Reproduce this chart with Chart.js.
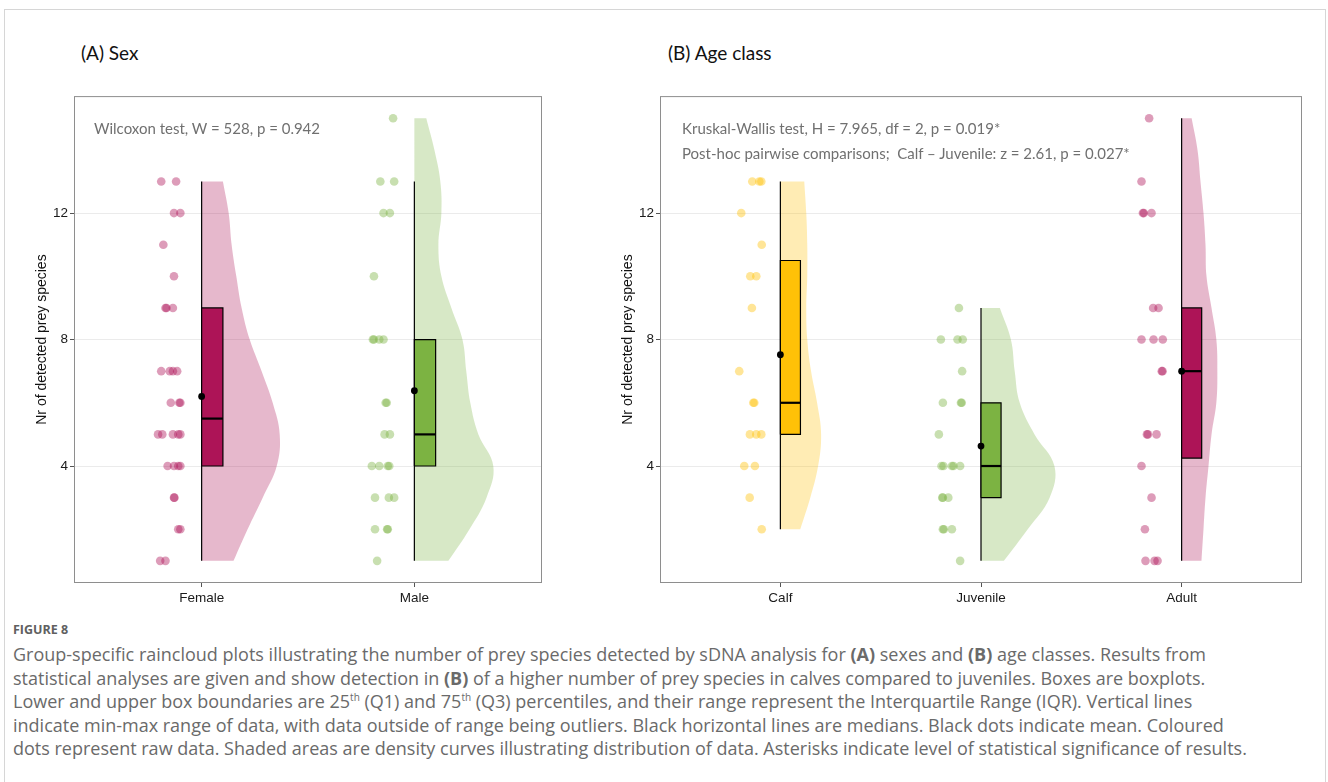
<!DOCTYPE html>
<html>
<head>
<meta charset="utf-8">
<script src="https://cdn.jsdelivr.net/npm/chart.js@4.4.1/dist/chart.umd.min.js"></script>
<style>
  body { margin: 0; width: 1328px; height: 782px; background: #fff; position: relative; overflow: hidden; font-family: Lato, sans-serif; }
  .frame { position: absolute; left: 4px; top: 9px; width: 1320px; height: 800px; border: 1px solid #d6d6d6; }
  .head { position: absolute; font-size: 19px; line-height: 24px; color: #111; }
  .note { position: absolute; font-size: 15px; line-height: 20px; color: #707070; white-space: nowrap; }
  .box { position: absolute; }
  .fig { position: absolute; left: 13px; top: 621px; font-family: "Open Sans", sans-serif; font-size: 12.5px; font-weight: bold; color: #606060; }
  .cap { position: absolute; left: 13px; top: 643px; font-family: "Open Sans", sans-serif; font-size: 18px; line-height: 23.6px; color: #6a6a6a; white-space: nowrap; }
  sup { font-size: 10px; line-height: 0; }
</style>
</head>
<body>
<div class="frame"></div>

<div class="head" style="left:81px;top:41px">(A) Sex</div>
<div class="head" style="left:668px;top:41px">(B) Age class</div>

<div class="box" style="left:0;top:86px"><canvas id="chart-sex" width="560" height="530"></canvas></div>
<div class="box" style="left:590px;top:86px"><canvas id="chart-age" width="730" height="530"></canvas></div>

<div class="note" style="left:94px;top:118px">Wilcoxon test, W = 528, p = 0.942</div>
<div class="note" style="left:682px;top:118px">Kruskal-Wallis test, H = 7.965, df = 2, p = 0.019*</div>
<div class="note" style="left:682px;top:143px">Post-hoc pairwise comparisons;&nbsp; Calf – Juvenile: z = 2.61, p = 0.027*</div>

<div class="fig">FIGURE 8</div>
<div class="cap">
Group-specific raincloud plots illustrating the number of prey species detected by sDNA analysis for <b>(A)</b> sexes and <b>(B)</b> age classes. Results from<br>
statistical analyses are given and show detection in <b>(B)</b> of a higher number of prey species in calves compared to juveniles. Boxes are boxplots.<br>
Lower and upper box boundaries are 25<sup>th</sup> (Q1) and 75<sup>th</sup> (Q3) percentiles, and their range represent the Interquartile Range (IQR). Vertical lines<br>
indicate min-max range of data, with data outside of range being outliers. Black horizontal lines are medians. Black dots indicate mean. Coloured<br>
dots represent raw data. Shaded areas are density curves illustrating distribution of data. Asterisks indicate level of statistical significance of results.
</div>

<script>
// ─── Data ──────────────────────────────────────────────────────────
const sexGroups = ['Female', 'Male'];
const ageGroups = ['Calf', 'Juvenile', 'Adult'];
const yTicks = [4, 8, 12];

// raw observations + their horizontal jitter (x units left of the category)
const femaleValues = [13, 13, 12, 12, 11, 10, 9, 9, 9, 7, 7, 7, 7, 6, 6, 6, 5, 5, 5, 5, 5, 4, 4, 4, 4, 3, 3, 2, 2, 1, 1];
const femaleJitter = [-0.19, -0.12, -0.13, -0.10, -0.18, -0.13, -0.17, -0.165, -0.135, -0.19, -0.15, -0.135, -0.115, -0.145, -0.105, -0.10,
  -0.205, -0.185, -0.135, -0.11, -0.10, -0.16, -0.13, -0.11, -0.10, -0.13, -0.128, -0.11, -0.10, -0.195, -0.17];
const maleValues = [15, 13, 13, 12, 12, 10, 8, 8, 8, 8, 6, 6, 5, 5, 4, 4, 4, 4, 3, 3, 3, 2, 2, 2, 1];
const maleJitter = [-0.10, -0.16, -0.095, -0.145, -0.115, -0.19, -0.195, -0.19, -0.165, -0.145, -0.135, -0.13, -0.14, -0.115,
  -0.20, -0.165, -0.125, -0.118, -0.185, -0.12, -0.095, -0.185, -0.128, -0.125, -0.175];
const calfValues = [13, 13, 13, 12, 11, 10, 10, 9, 7, 6, 6, 5, 5, 5, 4, 4, 3, 2];
const calfJitter = [-0.14, -0.105, -0.095, -0.195, -0.093, -0.15, -0.12, -0.142, -0.205, -0.135, -0.13, -0.152, -0.12, -0.095,
  -0.18, -0.127, -0.153, -0.093];
const juvenileValues = [9, 8, 8, 8, 7, 6, 6, 6, 5, 4, 4, 4, 4, 4, 3, 3, 3, 2, 2, 2, 1];
const juvenileJitter = [-0.11, -0.20, -0.117, -0.091, -0.094, -0.19, -0.10, -0.096, -0.21, -0.197, -0.187, -0.145, -0.137, -0.104,
  -0.193, -0.19, -0.163, -0.19, -0.185, -0.145, -0.104];
const adultValues = [15, 13, 12, 12, 12, 9, 9, 8, 8, 8, 7, 7, 5, 5, 5, 4, 3, 2, 1, 1, 1];
const adultJitter = [-0.162, -0.20, -0.193, -0.188, -0.15, -0.142, -0.115, -0.20, -0.14, -0.094, -0.099, -0.095, -0.173, -0.168, -0.125,
  -0.20, -0.15, -0.183, -0.18, -0.135, -0.12];

// box statistics: [min, Q1, median, Q3, max]
const femaleBox = [1, 4, 5.5, 9, 13];
const maleBox = [1, 4, 5, 8, 13];
const calfBox = [2, 5, 6, 10.5, 13];
const juvenileBox = [1, 3, 4, 6, 9];
const adultBox = [1, 4.25, 7, 9, 15];
const sexMeans = [6.2, 6.38];
const ageMeans = [7.52, 4.63, 7.0];

// density half-widths (x units), one per integer value starting at densityFrom
const femaleDensity = [0.150, 0.216, 0.287, 0.353, 0.367, 0.334, 0.282, 0.226, 0.188, 0.163, 0.141, 0.127, 0.100];
const maleDensity = [0.160, 0.259, 0.339, 0.371, 0.301, 0.263, 0.244, 0.226, 0.174, 0.127, 0.113, 0.127, 0.122, 0.094, 0.056];
const calfDensity = [0.099, 0.149, 0.188, 0.203, 0.183, 0.153, 0.134, 0.129, 0.134, 0.134, 0.129, 0.119];
const juvenileDensity = [0.114, 0.233, 0.342, 0.366, 0.267, 0.193, 0.168, 0.149, 0.094];
const adultDensity = [0.099, 0.109, 0.119, 0.134, 0.149, 0.173, 0.178, 0.173, 0.149, 0.124, 0.119, 0.109, 0.094, 0.079, 0.050];
const sexDensityFrom = [1, 1];
const ageDensityFrom = [2, 1, 1];

// ─── Styling ───────────────────────────────────────────────────────
const PINK = [173, 20, 87], GREEN = [124, 179, 66], GOLD = [255, 193, 7];
const BOX_W = 0.1;
const rgba = (c, a) => `rgba(${c[0]},${c[1]},${c[2]},${a})`;

function groupDatasets(pos, g) {
  const [mn, q1, med, q3, mx] = g.box;
  const edge = g.density.map((w, i) => ({ x: pos + w, y: g.from + i }));
  const first = edge[0], last = edge[edge.length - 1];
  // corners doubled so the smoothed outline stays flat at the trimmed ends
  const shape = [{ x: pos, y: first.y }, first, first, ...edge.slice(1, -1), last, last, { x: pos, y: last.y }];
  const line = { showLine: true, pointRadius: 0, borderColor: '#000', borderWidth: 1.2, tension: 0 };
  return [
    { data: g.values.map((v, i) => ({ x: pos + g.jitter[i], y: v })), pointRadius: 4.3, pointBorderWidth: 0,
      pointBackgroundColor: rgba(g.color, 0.42), order: 0 },
    { data: [{ x: pos, y: g.mean }], pointRadius: 3.4, pointBorderWidth: 0, pointBackgroundColor: '#000', order: 1 },
    { ...line, data: [{ x: pos, y: med }, { x: pos + BOX_W, y: med }], borderWidth: 2.2, order: 2 },
    { ...line, data: [{ x: pos, y: q1 }, { x: pos + BOX_W, y: q1 }, { x: pos + BOX_W, y: q3 }, { x: pos, y: q3 }, { x: pos, y: q1 }],
      fill: 'shape', backgroundColor: rgba(g.color, 1), order: 3 },
    { ...line, data: [{ x: pos, y: mn }, { x: pos, y: mx }], order: 4 },
    { data: shape, showLine: true, pointRadius: 0, tension: 0.4, fill: 'shape', borderWidth: 0, borderColor: 'rgba(0,0,0,0)',
      backgroundColor: rgba(g.color, 0.3), order: 5 },
  ];
}

const panelBorder = {
  id: 'panelBorder',
  afterDraw(chart) {
    const { ctx, chartArea: a } = chart;
    ctx.save();
    ctx.strokeStyle = '#8e8e8e';
    ctx.lineWidth = 1;
    ctx.strokeRect(a.left + 0.5, a.top + 0.5, a.right - a.left - 1, a.bottom - a.top - 1);
    ctx.restore();
  }
};

const axisFont = { family: '"Liberation Sans", Arial, sans-serif', size: 13.5 };

function makeChart(id, labels, groups, yAxisWidth, titlePad) {
  const datasets = [];
  groups.forEach((g, i) => datasets.push(...groupDatasets(i + 1, g)));
  return new Chart(document.getElementById(id), {
    type: 'scatter',
    data: { datasets },
    plugins: [panelBorder],
    options: {
      responsive: false,
      animation: false,
      devicePixelRatio: 1,
      layout: { padding: { top: 10, right: 18, left: 0, bottom: 0 } },
      plugins: { legend: { display: false }, tooltip: { enabled: false } },
      scales: {
        x: {
          type: 'linear', min: 0.4, max: labels.length + 0.6,
          afterBuildTicks: ax => { ax.ticks = labels.map((_, i) => ({ value: i + 1 })); },
          afterFit: ax => { ax.height = 33; },
          ticks: { callback: (v, i) => labels[i], color: '#1a1a1a', font: axisFont, padding: 3, maxRotation: 0, autoSkip: false },
          grid: { drawOnChartArea: false, tickLength: 4, tickColor: '#555' },
          border: { display: false },
        },
        y: {
          min: 0.3, max: 15.7,
          afterBuildTicks: ax => { ax.ticks = yTicks.map(v => ({ value: v })); },
          afterFit: ax => { ax.width = yAxisWidth; },
          ticks: { color: '#1a1a1a', font: axisFont, padding: 2 },
          grid: { color: '#ebebeb', lineWidth: 1, tickLength: 4, tickColor: '#555' },
          border: { display: false },
          title: { display: true, text: 'Nr of detected prey species', color: '#111',
            font: { family: '"Liberation Sans", Arial, sans-serif', size: 14 }, padding: { top: titlePad, bottom: 0 } },
        },
      },
    },
  });
}

makeChart('chart-sex', sexGroups, [
  { values: femaleValues, jitter: femaleJitter, box: femaleBox, mean: sexMeans[0], density: femaleDensity, from: sexDensityFrom[0], color: PINK },
  { values: maleValues, jitter: maleJitter, box: maleBox, mean: sexMeans[1], density: maleDensity, from: sexDensityFrom[1], color: GREEN },
], 74, 34);

makeChart('chart-age', ageGroups, [
  { values: calfValues, jitter: calfJitter, box: calfBox, mean: ageMeans[0], density: calfDensity, from: ageDensityFrom[0], color: GOLD },
  { values: juvenileValues, jitter: juvenileJitter, box: juvenileBox, mean: ageMeans[1], density: juvenileDensity, from: ageDensityFrom[1], color: GREEN },
  { values: adultValues, jitter: adultJitter, box: adultBox, mean: ageMeans[2], density: adultDensity, from: ageDensityFrom[2], color: PINK },
], 70, 30);
</script>
</body>
</html>
